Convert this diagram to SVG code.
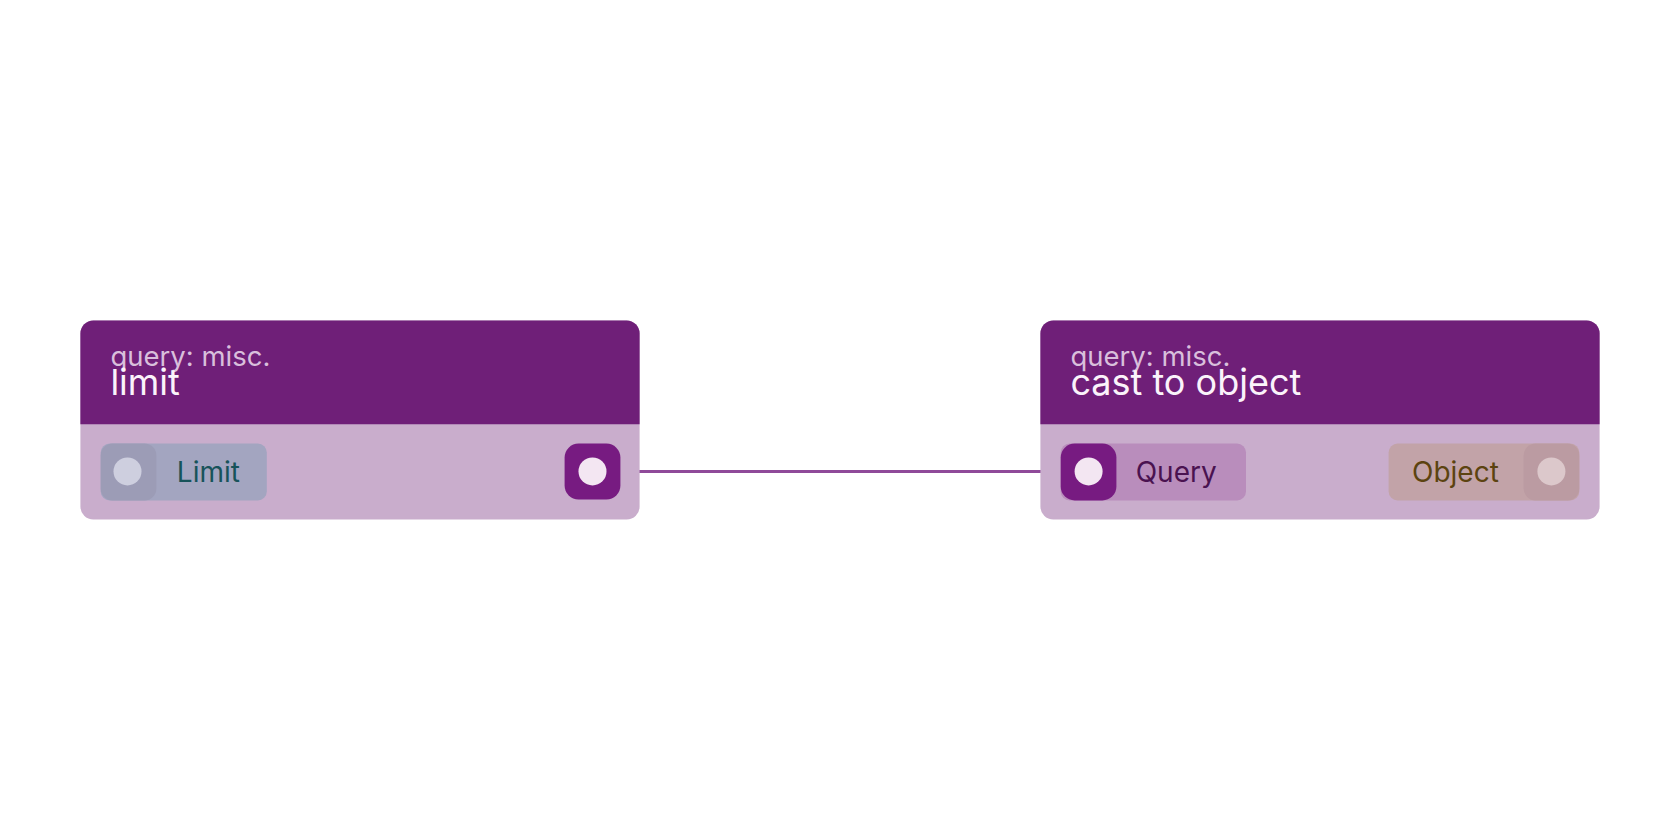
<svg xmlns="http://www.w3.org/2000/svg" width="1680" height="840" viewBox="0 0 1680 840">
<style>
text{font-family:Inter,"Noto Sans",sans-serif}
.hd{fill:#6f1f78}.bd{fill:#c9adcc}
.sub{fill:#d9bfdc;font-size:27.5px}.ttl{fill:#fbf3fb;font-size:36px}
.lbl{font-size:28px}
.dot{fill:#f3e6f2}
</style>
<rect width="1680" height="840" fill="#fff"/>
<g id="connectors"><line x1="620" y1="471.4" x2="1062" y2="471.4" stroke="#8f4a99" stroke-width="3"/></g>
<g id="node-limit">
<rect class="bd" x="80.4" y="320.4" width="559.2" height="199.2" rx="13"/>
<path class="hd" d="M80.4 424.3V333.4a13 13 0 0 1 13-13h533.2a13 13 0 0 1 13 13v90.9z"/>
<text class="sub" x="110.4" y="366">query: misc.</text>
<text class="ttl" x="110.4" y="395">limit</text>
<rect x="100.7" y="443.6" width="166.1" height="56.8" rx="9" fill="#a3a5c0"/>
<rect x="100.7" y="443.6" width="55.7" height="56.8" rx="12" fill="#9c9cb6"/>
<circle cx="127.5" cy="471.4" r="14" fill="#cecfdf"/>
<text class="lbl" x="176.8" y="481.5" fill="#17535a">Limit</text>
<rect x="564.6" y="443.6" width="55.8" height="56" rx="14" fill="#771b81"/>
<circle class="dot" cx="592.5" cy="471.4" r="14"/>
</g>
<g id="node-cast">
<rect class="bd" x="1040.4" y="320.4" width="559.2" height="199.2" rx="13"/>
<path class="hd" d="M1040.4 424.3V333.4a13 13 0 0 1 13-13h533.2a13 13 0 0 1 13 13v90.9z"/>
<text class="sub" x="1070.4" y="366">query: misc.</text>
<text class="ttl" x="1070.4" y="395">cast to object</text>
<rect x="1060.7" y="443.6" width="185.3" height="56.8" rx="9" fill="#b98dbc"/>
<rect x="1060.7" y="443.6" width="55.7" height="56.8" rx="14" fill="#771b81"/>
<circle class="dot" cx="1088.6" cy="471.4" r="14"/>
<text class="lbl" x="1135.7" y="481.5" fill="#4a1250">Query</text>
<rect x="1388.6" y="443.6" width="190.7" height="56.8" rx="9" fill="#c2a3a8"/>
<rect x="1523.6" y="443.6" width="55.7" height="56.8" rx="12" fill="#bb9ba2"/>
<circle cx="1551.4" cy="471.4" r="14" fill="#dcc8cb"/>
<text class="lbl" x="1412" y="481.5" fill="#5c4310">Object</text>
</g>
</svg>
